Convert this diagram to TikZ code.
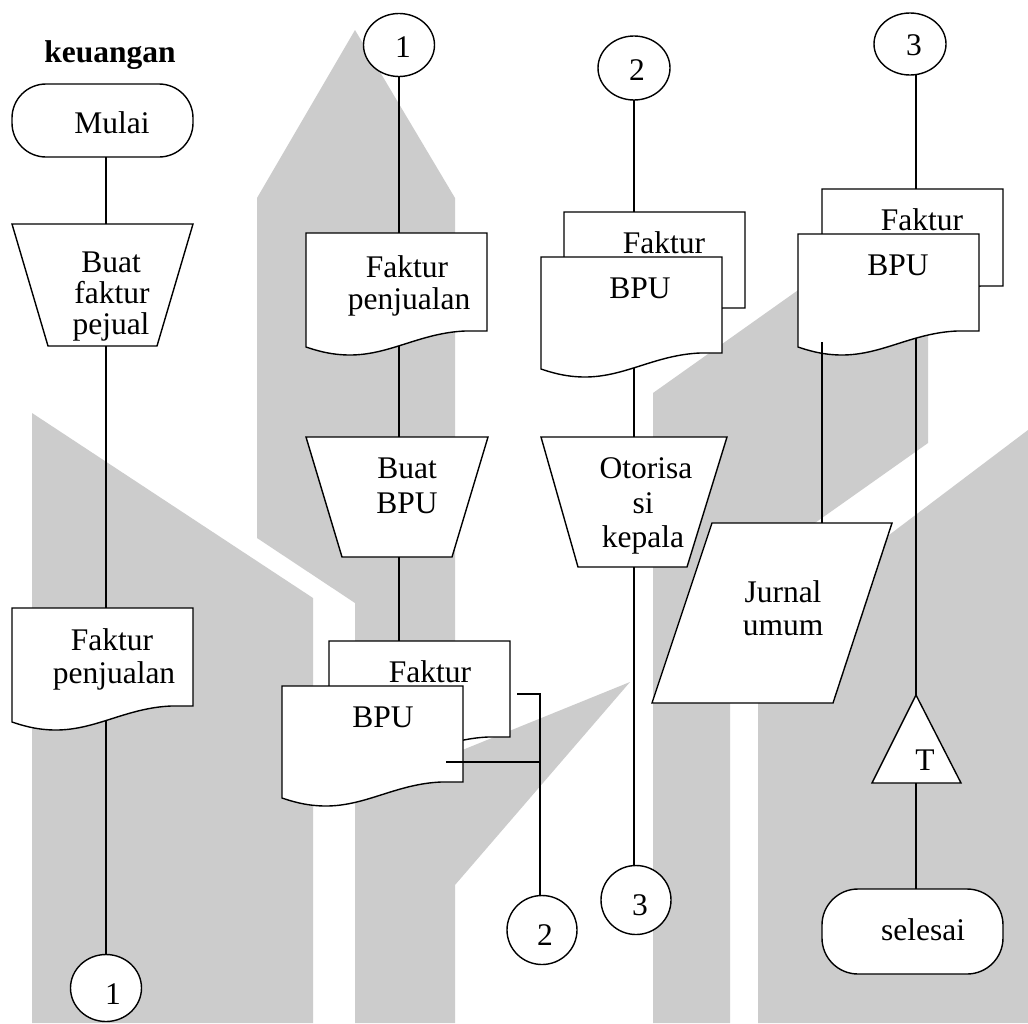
\documentclass[tikz,border=0pt]{standalone}
\usepackage{fontspec}
\setmainfont{Liberation Serif}
\usetikzlibrary{shapes.geometric}
\newcommand{\docshape}[3]{%
  \path[shp] (#1,#2) -- (#1+181,#2) -- (#1+181,#3) -- (#1+159,#3)
    .. controls (#1+114,#3+2) and (#1+84,#3+24) .. (#1+44,#3+24)
    .. controls (#1+24,#3+24) and (#1+9,#3+19) .. (#1,#3+16) -- cycle;}
\begin{document}
\begin{tikzpicture}[x=1pt,y=-1pt,
  shp/.style={draw=black, line width=1.4pt, fill=white, line join=miter},
  ln/.style={draw=black, line width=1.4pt},
  txt/.style={font=\fontsize{31.5pt}{33pt}\selectfont, inner sep=0pt, anchor=base},
  conn/.style={shp, ellipse, inner sep=0pt},
  term/.style={shp, inner sep=0pt, minimum width=181pt},
  wm/.style={fill=black!20, draw=none}]
\useasboundingbox (0,0) rectangle (1028,1023);
\fill[white] (0,0) rectangle (1028,1023);

% ---------- watermark ----------
\fill[wm] (32,413) -- (313,598) -- (313,1023) -- (32,1023) -- cycle;
\fill[wm] (257,538) -- (257,198) -- (355,30) -- (455,198) -- (455,753) -- (630,682)
  -- (455,885) -- (455,1023) -- (355,1023) -- (355,603) -- cycle;
\fill[wm] (653,393) -- (928,198) -- (928,443) -- (730,583) -- (730,1023) -- (653,1023) -- cycle;
\fill[wm] (758,1023) -- (758,634) -- (1028,430) -- (1028,1023) -- cycle;

% ---------- column 1 ----------
\node[txt, font=\fontsize{31.5pt}{33pt}\selectfont\bfseries] (judul) at (110,62) {keuangan};
\node[term, rounded corners=34pt, minimum height=73pt] (mulai) at (102.5,120.5) {};
\path[shp] (12,224) -- (193,224) -- (157,346) -- (48,346) -- cycle;
\docshape{12}{608}{706}
\node[conn, minimum width=71pt, minimum height=67pt] (c1b) at (106,988) {};

% ---------- column 2 ----------
\node[conn, minimum width=71pt, minimum height=63pt] (c1t) at (399,45) {};
\docshape{306}{233}{331}
\path[shp] (306,437) -- (488,437) -- (452,557) -- (342,557) -- cycle;
\docshape{329}{641}{737}
\docshape{282}{686}{782}
\node[conn, minimum width=70pt, minimum height=69pt] (c2b) at (542,930) {};

% ---------- column 3 ----------
\node[conn, minimum width=72pt, minimum height=64pt] (c2t) at (634,68) {};
\docshape{564}{212}{308}
\docshape{541}{257}{353}
\path[shp] (541,437) -- (727,437) -- (687,567) -- (578,567) -- cycle;
\node[conn, minimum width=70pt, minimum height=69pt] (c3b) at (636,900) {};

% ---------- column 4 ----------
\node[conn, minimum width=72pt, minimum height=62pt] (c3t) at (910,44) {};
\docshape{822}{189}{286}
\docshape{798}{234}{331}
\path[shp] (712,523) -- (892,523) -- (833,703) -- (652,703) -- cycle;
\path[shp] (916,695) -- (961,783) -- (872,783) -- cycle;
\node[term, rounded corners=36pt, minimum height=85pt] (selesai) at (912.5,931.5) {};

% ---------- connection points ----------
\coordinate (p1a) at (106,157);  \coordinate (p1b) at (106,224);
\coordinate (p1c) at (106,346);  \coordinate (p1d) at (106,608);
\coordinate (p1e) at (106,721);  \coordinate (p1f) at (106,955);
\coordinate (p2a) at (399,76);   \coordinate (p2b) at (399,233);
\coordinate (p2c) at (399,346);  \coordinate (p2d) at (399,437);
\coordinate (p2e) at (399,557);  \coordinate (p2f) at (399,641);
\coordinate (p2g) at (517,694);  \coordinate (p2h) at (540,694);
\coordinate (p2i) at (540,896);  \coordinate (p2j) at (446,762);
\coordinate (p2k) at (540,762);
\coordinate (p3a) at (634,100);  \coordinate (p3b) at (634,212);
\coordinate (p3c) at (634,368);  \coordinate (p3d) at (634,437);
\coordinate (p3e) at (634,567);  \coordinate (p3f) at (634,866);
\coordinate (p4a) at (916,74);   \coordinate (p4b) at (916,189);
\coordinate (p4c) at (822,342);  \coordinate (p4d) at (822,523);
\coordinate (p4e) at (916,338);  \coordinate (p4f) at (916,695);
\coordinate (p4g) at (916,783);  \coordinate (p4h) at (916,889);

% ---------- connectors ----------
\draw[ln] (p1a) -- (p1b);
\draw[ln] (p1c) -- (p1d);
\draw[ln] (p1e) -- (p1f);
\draw[ln] (p2a) -- (p2b);
\draw[ln] (p2c) -- (p2d);
\draw[ln] (p2e) -- (p2f);
\draw[ln] (p2g) -- (p2h) -- (p2i);
\draw[ln] (p2j) -- (p2k);
\draw[ln] (p3a) -- (p3b);
\draw[ln] (p3c) -- (p3d);
\draw[ln] (p3e) -- (p3f);
\draw[ln] (p4a) -- (p4b);
\draw[ln] (p4c) -- (p4d);
\draw[ln] (p4e) -- (p4f);
\draw[ln] (p4g) -- (p4h);

% ---------- texts ----------
\node[txt] (tmulai) at (112,133) {Mulai};
\node[txt] (tbf1) at (111,272) {Buat};
\node[txt] (tbf2) at (112,303) {faktur};
\node[txt] (tbf3) at (111,334) {pejual};
\node[txt] (tfp1a) at (112,650) {Faktur};
\node[txt] (tfp1b) at (114,683) {penjualan};
\node[txt] (tc1b) at (113,1004) {1};

\node[txt] (tc1t) at (403,57) {1};
\node[txt] (tfp2a) at (407,277) {Faktur};
\node[txt] (tfp2b) at (409,309) {penjualan};
\node[txt] (tbb1) at (407,478) {Buat};
\node[txt] (tbb2) at (407,513) {BPU};
\node[txt] (tf2) at (430,682) {Faktur};
\node[txt] (tb2) at (383,727) {BPU};
\node[txt] (tc2b) at (545,945) {2};

\node[txt] (tc2t) at (637,80) {2};
\node[txt] (tf3) at (664,253) {Faktur};
\node[txt] (tb3) at (640,298) {BPU};
\node[txt] (to1) at (646,478) {Otorisa};
\node[txt] (to2) at (643,513) {si};
\node[txt] (to3) at (643,547) {kepala};
\node[txt] (tc3b) at (640,915) {3};

\node[txt] (tc3t) at (914,55) {3};
\node[txt] (tf4) at (922,230) {Faktur};
\node[txt] (tb4) at (898,275) {BPU};
\node[txt] (tj1) at (783,602) {Jurnal};
\node[txt] (tj2) at (783,635) {umum};
\node[txt] (tt) at (925,770) {T};
\node[txt] (tsel) at (923,940) {selesai};
\end{tikzpicture}
\end{document}
